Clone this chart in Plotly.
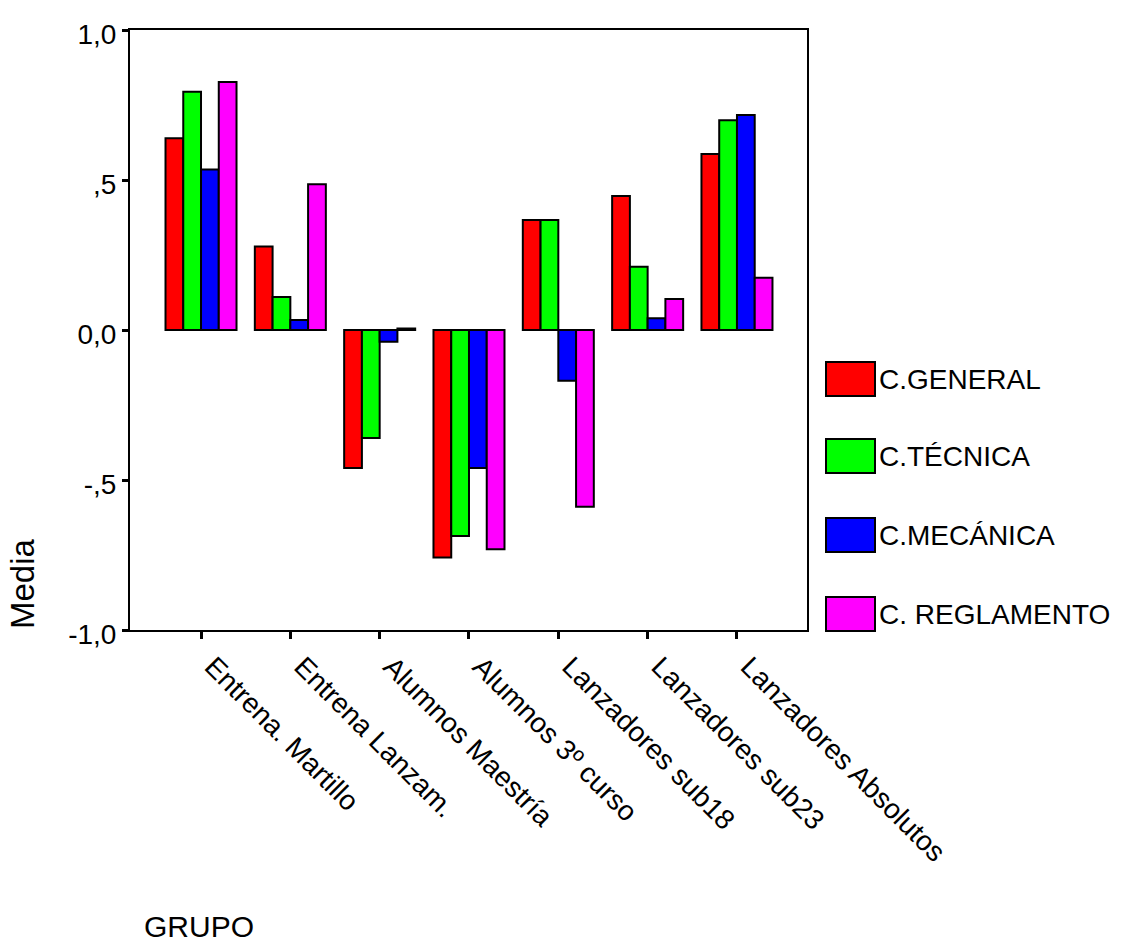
import plotly.graph_objects as go

# Groups and mean scores per questionnaire block
grupos = [
    "Entrena. Martillo",
    "Entrena Lanzam.",
    "Alumnos Maestría",
    "Alumnos 3º curso",
    "Lanzadores sub18",
    "Lanzadores sub23",
    "Lanzadores Absolutos",
]
series_names = ["C.GENERAL", "C.TÉCNICA", "C.MECÁNICA", "C. REGLAMENTO"]
c_general = [0.639, 0.278, -0.460, -0.758, 0.367, 0.447, 0.587]
c_tecnica = [0.794, 0.110, -0.360, -0.687, 0.367, 0.211, 0.699]
c_mecanica = [0.535, 0.033, -0.039, -0.460, -0.169, 0.039, 0.717]
c_reglamento = [0.827, 0.486, 0.005, -0.731, -0.589, 0.103, 0.174]
colors = ["#FF0000", "#00FF00", "#0000FF", "#FF00FF"]

y_tickvals = [-1.0, -0.5, 0.0, 0.5, 1.0]
y_ticktext = ["-1,0", "-,5", "0,0", ",5", "1,0"]

FONT = "Arial, Liberation Sans, sans-serif"
W, H = 1121, 947
L, R, T, B = 130, 807, 30, 630  # plot area edges in pixels


def px_x(px):
    return (px - L) / (R - L)


def px_y(py):
    return (B - py) / (B - T)


fig = go.Figure()
for name, vals, col in zip(series_names, [c_general, c_tecnica, c_mecanica, c_reglamento], colors):
    fig.add_trace(go.Bar(
        x=grupos, y=vals, name=name,
        marker=dict(color=col, line=dict(color="black", width=2)),
        showlegend=False,
    ))

# Custom legend: large swatches with labels
legend_tops = [362, 439, 518, 597]
for name, col, top in zip(series_names, colors, legend_tops):
    fig.add_shape(type="rect", xref="paper", yref="paper",
                  x0=px_x(826), x1=px_x(875), y0=px_y(top + 34), y1=px_y(top),
                  fillcolor=col, line=dict(color="black", width=2))
    fig.add_annotation(xref="paper", yref="paper", x=px_x(877), y=px_y(top + 17),
                       xanchor="left", yanchor="middle", showarrow=False,
                       text=name, font=dict(family=FONT, size=28, color="black"))

# Axis titles
fig.add_annotation(xref="paper", yref="paper", x=px_x(22), y=px_y(584),
                   xanchor="center", yanchor="middle", showarrow=False, textangle=-90,
                   text="Media", font=dict(family=FONT, size=33, color="black"))
fig.add_annotation(xref="paper", yref="paper", x=px_x(142), y=px_y(926),
                   xanchor="left", yanchor="middle", showarrow=False,
                   text="GRUPO", font=dict(family=FONT, size=30, color="black"))

fig.update_layout(
    width=W, height=H,
    margin=dict(l=L, r=W - R, t=T, b=H - B, pad=0),
    paper_bgcolor="white", plot_bgcolor="white",
    barmode="group", bargap=0.205, bargroupgap=0.0,
    font=dict(family=FONT, color="black"),
)
fig.update_xaxes(
    range=[-0.795, 6.784], showgrid=False, zeroline=False,
    showline=True, linecolor="black", linewidth=2, mirror=True,
    ticks="outside", ticklen=7, tickwidth=3, tickcolor="black",
    tickangle=45, ticklabelshift=12,
    tickfont=dict(family=FONT, size=28, color="black"),
)
fig.update_yaxes(
    range=[-1.0, 1.0], showgrid=False, zeroline=False,
    showline=True, linecolor="black", linewidth=2, mirror=True,
    ticks="outside", ticklen=6, tickwidth=3, tickcolor="black",
    tickvals=y_tickvals, ticktext=y_ticktext, ticklabelshift=4,
    tickfont=dict(family=FONT, size=28, color="black"),
)

fig.write_html("out.html")
